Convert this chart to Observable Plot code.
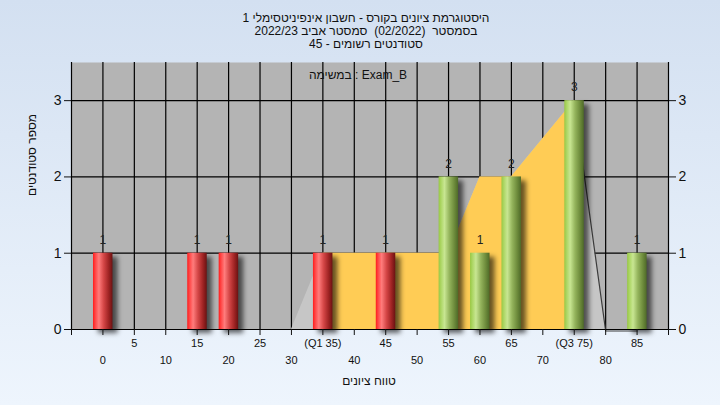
<!DOCTYPE html>
<html><head><meta charset="utf-8">
<script src="https://cdn.jsdelivr.net/npm/d3@7"></script>
<script src="https://cdn.jsdelivr.net/npm/@observablehq/plot@0.6"></script>
<style>
html,body{margin:0;padding:0;}
body{width:720px;height:405px;overflow:hidden;background:linear-gradient(#d3e0f1,#eef5fd);}
</style></head><body><div id="chart"></div>
<script>
// ---- data ----
const titleLines = [
  "היסטוגרמת ציונים בקורס - חשבון אינפיניטסימלי 1",
  "בסמסטר  (02/2022)  סמסטר אביב 2022/23",
  "סטודנטים רשומים - 45"
];
const taskLabel = "במשימה : Exam_B";
const yTitle = "מספר סטודנטים";
const xTitle = "טווח ציונים";
const scores = [0, 15, 20, 35, 45, 55, 60, 65, 75, 85];
const counts = [1, 1, 1, 1, 1, 2, 1, 2, 3, 1];
const passMark = 50;
const q1 = 35, q3 = 75;
const shapeX = [30, 35, 45, 55, 60, 65, 75, 80, 85];
const shapeY = [0, 1, 1, 1, 2, 2, 3, 0, 0];
const upperRowTicks = [5, 15, 25, 35, 45, 55, 65, 75, 85];
const lowerRowTicks = [0, 10, 20, 30, 40, 50, 60, 70, 80];
const yTicks = [0, 1, 2, 3];

// ---- derived tables ----
const bars = scores.map((s, i) => ({score: s, count: counts[i]}));
const redBars = bars.filter(d => d.score < passMark);
const greenBars = bars.filter(d => d.score >= passMark);
const shape = shapeX.map((x, i) => ({x, y: shapeY[i]}));
const inner = shape.filter(d => d.x >= q1 && d.x <= q3);
const tail = shape.filter(d => d.x >= q3);
const grid = d3.range(0, 90, 5);
const allTicks = d3.range(-5, 91, 5);
const fmt = d => d === q1 ? `(Q1 ${d})` : d === q3 ? `(Q3 ${d})` : String(d);
const bx1 = d => d.score - 1.5, bx2 = d => d.score + 1.6;

const chart = Plot.plot({
  width: 720, height: 405,
  marginTop: 62, marginBottom: 76, marginLeft: 71, marginRight: 52,
  style: {background: "transparent", fontFamily: "'Liberation Sans', Arial, sans-serif", fontSize: "12px", color: "#111", overflow: "visible"},
  x: {domain: [-5, 90]},
  y: {domain: [0, 3.5]},
  marks: [
    Plot.frame({fill: "#b4b4b4", stroke: null}),
    Plot.ruleX(grid, {stroke: "#000", strokeWidth: 1.2}),
    Plot.ruleY([1, 2, 3], {stroke: "#000", strokeWidth: 1.2}),
    Plot.areaY(shape, {x: "x", y: "y", fill: "#c6c6c6"}),
    Plot.areaY(inner, {x: "x", y: "y", fill: "#ffcc55"}),
    Plot.line(tail, {x: "x", y: "y", stroke: "#3c3c3c", strokeWidth: 1.2, dy: 1.5}),
    Plot.rect(bars, {x1: bx1, x2: bx2, y1: 0, y2: "count", fill: "#000", fillOpacity: 0.6, dx: 5, dy: 4, ariaDescription: "shadow"}),
    Plot.rect(redBars, {x1: bx1, x2: bx2, y1: 0, y2: "count", fill: "url(#gRed)"}),
    Plot.rect(greenBars, {x1: bx1, x2: bx2, y1: 0, y2: "count", fill: "url(#gGreen)"}),
    Plot.text(bars, {x: "score", y: "count", text: d => String(d.count), dy: -13, fontSize: 12, fill: "#222"}),
    Plot.ruleY([0], {stroke: "#000", strokeWidth: 1.2}),
    Plot.ruleX([-5, 90], {stroke: "#000", strokeWidth: 1.2}),
    Plot.axisX({ticks: allTicks, tickSize: 6, tickPadding: 4, fontSize: 11, label: null,
      tickFormat: d => upperRowTicks.includes(d) ? fmt(d) : ""}),
    Plot.axisX({ticks: lowerRowTicks, tickSize: 0, tickPadding: 27, fontSize: 11, label: null, tickFormat: fmt}),
    Plot.axisY({ticks: yTicks, anchor: "left", tickSize: 7, tickPadding: 3, fontSize: 14, label: null, tickFormat: d => String(d)}),
    Plot.axisY({ticks: yTicks, anchor: "right", tickSize: 7, tickPadding: 3, fontSize: 14, label: null, tickFormat: d => String(d)}),
    Plot.text([taskLabel], {frameAnchor: "top", lineAnchor: "middle", dx: -12, dy: 13, fontSize: 12, fill: "#111"}),
    Plot.text([titleLines.join("\n")], {frameAnchor: "top", lineAnchor: "middle", dx: -4, dy: -32, lineHeight: 1.08, fontSize: 12, fill: "#111"}),
    Plot.text([yTitle], {frameAnchor: "left", rotate: -90, dx: -39, fontSize: 12, fill: "#111"}),
    Plot.text([xTitle], {frameAnchor: "bottom", lineAnchor: "middle", dx: -1, dy: 52, fontSize: 12, fill: "#111"})
  ]
});

// gradients & blur
const svg = d3.select(chart);
const defs = svg.insert("defs", ":first-child");
function grad(id, stops) {
  const g = defs.append("linearGradient").attr("id", id).attr("x1", 0).attr("x2", 1).attr("y1", 0).attr("y2", 0);
  stops.forEach(([o, c]) => g.append("stop").attr("offset", o).attr("stop-color", c));
}
grad("gRed", [[0, "#ff1c1c"], [0.12, "#ff4646"], [0.3, "#ff7c7c"], [0.55, "#d44646"], [0.8, "#a02424"], [1, "#6a1212"]]);
grad("gGreen", [[0, "#98c844"], [0.12, "#acd664"], [0.3, "#c8e692"], [0.55, "#94b45c"], [0.8, "#6e8c3c"], [1, "#4e6a28"]]);
const f = defs.append("filter").attr("id", "blur").attr("x", "-50%").attr("y", "-20%").attr("width", "200%").attr("height", "140%");
f.append("feGaussianBlur").attr("stdDeviation", 2.5);
svg.select('[aria-description="shadow"]').attr("filter", "url(#blur)");

document.getElementById("chart").appendChild(chart);
</script>
</body></html>
